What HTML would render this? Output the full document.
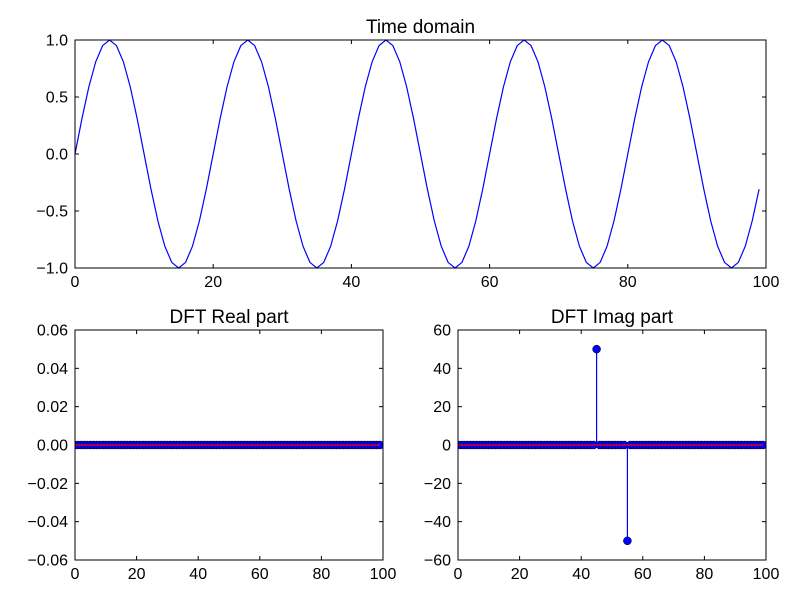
<!DOCTYPE html>
<html><head><meta charset="utf-8"><style>
body{margin:0;background:#fff;font-family:"Liberation Sans",sans-serif}
svg text{font-family:"Liberation Sans",sans-serif}
</style></head><body>
<svg id="fig" width="800" height="600" xmlns="http://www.w3.org/2000/svg"></svg>
<script>
const timeValues=[0,0.309,0.588,0.809,0.951,1,0.951,0.809,0.588,0.309,0,-0.309,-0.588,-0.809,-0.951,-1,-0.951,-0.809,-0.588,-0.309,
0,0.309,0.588,0.809,0.951,1,0.951,0.809,0.588,0.309,0,-0.309,-0.588,-0.809,-0.951,-1,-0.951,-0.809,-0.588,-0.309,
0,0.309,0.588,0.809,0.951,1,0.951,0.809,0.588,0.309,0,-0.309,-0.588,-0.809,-0.951,-1,-0.951,-0.809,-0.588,-0.309,
0,0.309,0.588,0.809,0.951,1,0.951,0.809,0.588,0.309,0,-0.309,-0.588,-0.809,-0.951,-1,-0.951,-0.809,-0.588,-0.309,
0,0.309,0.588,0.809,0.951,1,0.951,0.809,0.588,0.309,0,-0.309,-0.588,-0.809,-0.951,-1,-0.951,-0.809,-0.588,-0.309];
const realValues=new Array(100).fill(0);
const imagIndices=[45,55];
const imagPeaks=[50,-50];
const xTicks=[0,20,40,60,80,100];
const topYTicks=[-1,-0.5,0,0.5,1];
const topYLabels=["\u22121.0","\u22120.5","0.0","0.5","1.0"];
const realYTicks=[-0.06,-0.04,-0.02,0,0.02,0.04,0.06];
const realYLabels=["\u22120.06","\u22120.04","\u22120.02","0.00","0.02","0.04","0.06"];
const imagYTicks=[-60,-40,-20,0,20,40,60];
const imagYLabels=["\u221260","\u221240","\u221220","0","20","40","60"];

const NS="http://www.w3.org/2000/svg";
const svg=document.getElementById('fig');
function mk(tag,attrs,parent){const e=document.createElementNS(NS,tag);for(const k in attrs)e.setAttribute(k,attrs[k]);(parent||svg).appendChild(e);return e;}

function axes(name,x0,x1,y0,y1,xmin,xmax,ymin,ymax,yt,yl,title){
  const g=mk('g',{});
  
  
  const sx=v=>x0+(v-xmin)/(xmax-xmin)*(x1-x0);
  const sy=v=>y1-(v-ymin)/(ymax-ymin)*(y1-y0);
  xTicks.forEach(t=>{
    const x=sx(t);
    mk('line',{x1:x,x2:x,y1:y1,y2:y1-4,stroke:'#000'},g);
    mk('line',{x1:x,x2:x,y1:y0,y2:y0+4,stroke:'#000'},g);
    const tx=mk('text',{x:x,y:y1+19,'text-anchor':'middle','font-size':'16'},g);
    tx.textContent=t;
    
    
  });
  yt.forEach((t,i)=>{
    const y=sy(t);
    mk('line',{x1:x0,x2:x0+4,y1:y,y2:y,stroke:'#000'},g);
    mk('line',{x1:x1,x2:x1-4,y1:y,y2:y,stroke:'#000'},g);
    const tx=mk('text',{x:x0-7,y:y+5.5,'text-anchor':'end','font-size':'16'},g);
    tx.textContent=yl[i];
    
    
  });
  const tt=mk('text',{x:(x0+x1)/2,y:y0-7,'text-anchor':'middle','font-size':'19'},g);
  tt.textContent=title;
  
  
  return {g,sx,sy,frame:()=>mk('rect',{x:x0,y:y0,width:x1-x0,height:y1-y0,fill:'none',stroke:'#000'},g)};
}

// top
const A=axes('time-domain-axes',75,766,40,268,0,100,-1,1,topYTicks,topYLabels,'Time domain');
const line=mk('polyline',{fill:'none',stroke:'#0000ff','stroke-width':1.2,points:timeValues.map((v,i)=>A.sx(i)+','+A.sy(v)).join(' ')},A.g);


A.frame();

function stems(ax,vals,name,x0,x1){
  const clip='clip-'+name;
  const cp=mk('clipPath',{id:clip});
  mk('rect',{x:x0,y:0,width:x1-x0,height:600},cp);
  const g=mk('g',{'clip-path':'url(#'+clip+')'},ax.g);
  
  
  vals.forEach((v,i)=>{
    const x=ax.sx(i);
    const st=mk('line',{x1:x,x2:x,y1:ax.sy(0),y2:ax.sy(v),stroke:'#0000ff','stroke-width':1.2},g);
    
    
  });
  vals.forEach((v,i)=>{
    const c=mk('circle',{cx:ax.sx(i),cy:ax.sy(v),r:4,fill:'#0000ff',stroke:'#000','stroke-width':0.5},g);
    
    
  });
  const b=mk('line',{x1:ax.sx(0),x2:ax.sx(vals.length-1),y1:ax.sy(0),y2:ax.sy(0),stroke:'#ff0000','stroke-width':1.2},g);
  
  
}

const B=axes('dft-real-axes',75,383,330,560,0,100,-0.06,0.06,realYTicks,realYLabels,'DFT Real part');
stems(B,realValues,'real-stems',75,383);
B.frame();

const imagValues=new Array(100).fill(0);
imagIndices.forEach((k,i)=>imagValues[k]=imagPeaks[i]);
const C=axes('dft-imag-axes',458,766,330,560,0,100,-60,60,imagYTicks,imagYLabels,'DFT Imag part');
stems(C,imagValues,'imag-stems',458,766);
C.frame();
</script>
</body></html>
